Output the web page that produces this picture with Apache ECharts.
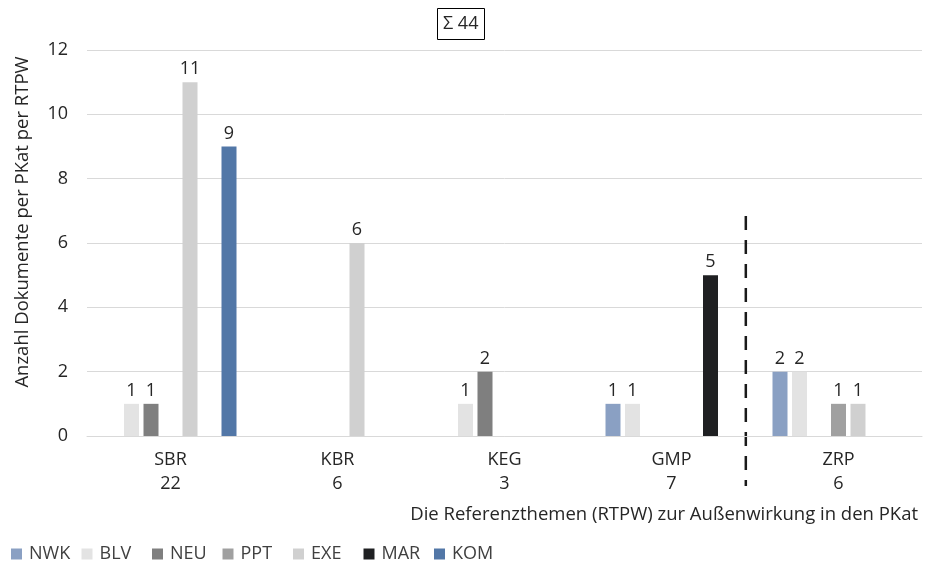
<!DOCTYPE html>
<html>
<head>
<meta charset="utf-8">
<script src="https://cdn.jsdelivr.net/npm/echarts@6/dist/echarts.min.js"></script>
<style>html,body{margin:0;padding:0;background:#fff}#c{width:926px;height:569px}</style>
</head>
<body>
<div id="c"></div>
<script>
var categories = ['SBR', 'KBR', 'KEG', 'GMP', 'ZRP'];
var categoryTotals = [22, 6, 3, 7, 6];
var seriesNames = ['NWK', 'BLV', 'NEU', 'PPT', 'EXE', 'MAR', 'KOM'];
var NWK = [0, 0, 0, 1, 2];
var BLV = [1, 0, 1, 1, 2];
var NEU = [1, 0, 2, 0, 0];
var PPT = [0, 0, 0, 0, 1];
var EXE = [11, 6, 0, 0, 1];
var MAR = [0, 0, 0, 5, 0];
var KOM = [9, 0, 0, 0, 0];
var yTicks = [0, 2, 4, 6, 8, 10, 12];
var grandTotal = 44;

var colors = ['#8aa0c3', '#e3e3e3', '#7f7f7f', '#a0a0a0', '#d0d0d0', '#1f2022', '#5277a7'];
var values = [NWK, BLV, NEU, PPT, EXE, MAR, KOM];
var FONT = '"Open Sans", "Noto Sans", sans-serif';
var TXT = '#262626';

var chart = echarts.init(document.getElementById('c'), null, {renderer: 'canvas'});
var series = seriesNames.map(function (n, i) {
  return {
    name: n, type: 'bar', data: values[i], barWidth: 15, barGap: '30%',
    itemStyle: {color: colors[i]},
    label: {show: true, position: 'top', distance: 4, color: TXT, fontSize: 18, fontFamily: FONT,
      formatter: function (p) { return p.value ? String(p.value) : ''; }}
  };
});
var legends = seriesNames.map(function (n, i) {
  return {left: 6 + i * 70.5, top: 540, itemWidth: 11, itemHeight: 11, icon: 'rect',
    textStyle: {fontSize: 18, color: '#404040', fontFamily: FONT, padding: [0, 0, 0, 2]},
    data: [n]};
});
chart.setOption({
  animation: false,
  color: colors,
  textStyle: {fontFamily: FONT},
  title: {text: 'Σ ' + grandTotal, left: 437, top: 8,
    borderColor: '#000', borderWidth: 1, padding: [7, 6],
    textStyle: {fontSize: 18, fontWeight: 'normal', color: TXT, fontFamily: FONT}},
  grid: {left: 87, right: 4, top: 50, bottom: 133, containLabel: false},
  legend: legends,
  xAxis: {type: 'category', data: categories,
    axisLine: {lineStyle: {color: '#d9d9d9', width: 1}}, axisTick: {show: false},
    axisLabel: {margin: 12, color: TXT, fontSize: 18, lineHeight: 24, fontFamily: FONT,
      formatter: function (v, i) { return v + '\n' + categoryTotals[i]; }}},
  yAxis: {type: 'value', min: yTicks[0], max: yTicks[yTicks.length - 1], interval: 2,
    axisLine: {show: false}, axisTick: {show: false},
    splitLine: {lineStyle: {color: '#d9d9d9', width: 1}},
    axisLabel: {margin: 19, color: TXT, fontSize: 18, fontFamily: FONT}},
  series: series
});

var xG = chart.convertToPixel({xAxisIndex: 0}, 'GMP');
var xZ = chart.convertToPixel({xAxisIndex: 0}, 'ZRP');
var xMid = xG + (xZ - xG) * 0.445;
var yTop = chart.convertToPixel({yAxisIndex: 0}, 6.84);
chart.setOption({
  graphic: [
    {type: 'line', shape: {x1: xMid, y1: yTop, x2: xMid, y2: 486},
      style: {stroke: '#1a1a1a', lineWidth: 2.5, lineDash: [14, 10]}},
    {type: 'text', x: 23, y: 222, rotation: Math.PI / 2,
      style: {text: 'Anzahl Dokumente per PKat per RTPW', fill: TXT, fontSize: 18.5, fontFamily: FONT,
        align: 'center', verticalAlign: 'middle'}},
    {type: 'text', x: 918, y: 515,
      style: {text: 'Die Referenzthemen (RTPW) zur Außenwirkung in den PKat', fill: TXT, fontSize: 18.5,
        fontFamily: FONT, align: 'right', verticalAlign: 'middle'}}
  ]
});
</script>
</body>
</html>
